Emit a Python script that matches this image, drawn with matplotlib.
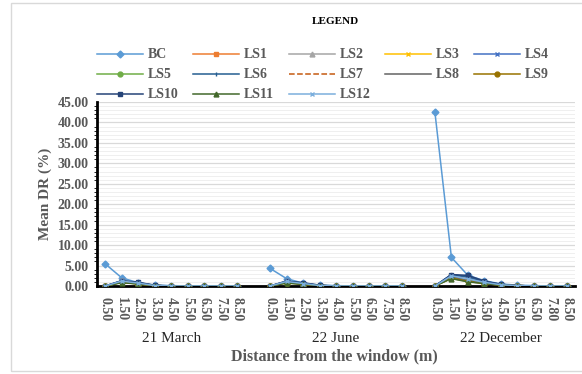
import numpy as np
import matplotlib
matplotlib.use("Agg")
import matplotlib.pyplot as plt
from matplotlib.ticker import MultipleLocator, FormatStrFormatter

# Categories (three days, nine distances each)
groups = ["21 March", "22 June", "22 December"]
dist_labels = [
    ["0.50", "1.50", "2.50", "3.50", "4.50", "5.50", "6.50", "7.50", "8.50"],
    ["0.50", "1.50", "2.50", "3.50", "4.50", "5.50", "6.50", "7.50", "8.50"],
    ["0.50", "1.50", "2.50", "3.50", "4.50", "5.50", "6.50", "7.80", "8.50"],
]

# Mean DR (%) per series: March, June, December
BC = [5.4, 2.0, 0.8, 0.2, 0.1, 0.0, 0.0, 0.0, 0.0,
      4.3, 1.8, 0.7, 0.2, 0.1, 0.0, 0.0, 0.0, 0.0,
      42.5, 7.0, 2.6, 1.3, 0.5, 0.2, 0.1, 0.0, 0.0]
LS1 = [0.0, 1.1, 0.6, 0.1, 0.0, 0.0, 0.0, 0.0, 0.0,
       0.0, 1.0, 0.6, 0.1, 0.0, 0.0, 0.0, 0.0, 0.0,
       0.0, 2.4, 1.6, 0.9, 0.3, 0.1, 0.0, 0.0, 0.0]
LS2 = [0.0, 1.2, 0.7, 0.1, 0.0, 0.0, 0.0, 0.0, 0.0,
       0.0, 1.1, 0.6, 0.1, 0.0, 0.0, 0.0, 0.0, 0.0,
       0.0, 2.6, 1.8, 1.0, 0.3, 0.1, 0.0, 0.0, 0.0]
LS3 = [0.0, 1.0, 0.6, 0.1, 0.0, 0.0, 0.0, 0.0, 0.0,
       0.0, 0.9, 0.5, 0.1, 0.0, 0.0, 0.0, 0.0, 0.0,
       0.0, 2.2, 1.4, 0.8, 0.3, 0.1, 0.0, 0.0, 0.0]
LS4 = [0.0, 1.3, 0.8, 0.1, 0.0, 0.0, 0.0, 0.0, 0.0,
       0.0, 1.2, 0.7, 0.1, 0.0, 0.0, 0.0, 0.0, 0.0,
       0.0, 2.8, 2.2, 1.1, 0.4, 0.1, 0.0, 0.0, 0.0]
LS5 = [0.0, 0.9, 0.5, 0.1, 0.0, 0.0, 0.0, 0.0, 0.0,
       0.0, 0.8, 0.5, 0.1, 0.0, 0.0, 0.0, 0.0, 0.0,
       0.0, 2.0, 1.3, 0.7, 0.2, 0.1, 0.0, 0.0, 0.0]
LS6 = [0.0, 1.2, 0.8, 0.1, 0.0, 0.0, 0.0, 0.0, 0.0,
       0.0, 1.1, 0.7, 0.1, 0.0, 0.0, 0.0, 0.0, 0.0,
       0.0, 2.7, 2.3, 1.1, 0.4, 0.1, 0.0, 0.0, 0.0]
LS7 = [0.0, 1.0, 0.6, 0.1, 0.0, 0.0, 0.0, 0.0, 0.0,
       0.0, 0.9, 0.5, 0.1, 0.0, 0.0, 0.0, 0.0, 0.0,
       0.0, 2.1, 1.2, 0.7, 0.2, 0.1, 0.0, 0.0, 0.0]
LS8 = [0.0, 1.1, 0.7, 0.1, 0.0, 0.0, 0.0, 0.0, 0.0,
       0.0, 1.0, 0.6, 0.1, 0.0, 0.0, 0.0, 0.0, 0.0,
       0.0, 2.3, 1.5, 0.8, 0.3, 0.1, 0.0, 0.0, 0.0]
LS9 = [0.0, 0.9, 0.5, 0.1, 0.0, 0.0, 0.0, 0.0, 0.0,
       0.0, 0.8, 0.4, 0.1, 0.0, 0.0, 0.0, 0.0, 0.0,
       0.0, 1.9, 1.1, 0.6, 0.2, 0.1, 0.0, 0.0, 0.0]
LS10 = [0.0, 1.3, 0.9, 0.2, 0.0, 0.0, 0.0, 0.0, 0.0,
        0.0, 1.2, 0.8, 0.2, 0.0, 0.0, 0.0, 0.0, 0.0,
        0.0, 2.8, 2.6, 1.2, 0.4, 0.1, 0.0, 0.0, 0.0]
LS11 = [0.0, 0.8, 0.5, 0.1, 0.0, 0.0, 0.0, 0.0, 0.0,
        0.0, 0.7, 0.4, 0.1, 0.0, 0.0, 0.0, 0.0, 0.0,
        0.0, 1.8, 1.0, 0.6, 0.2, 0.0, 0.0, 0.0, 0.0]
LS12 = [0.0, 1.2, 0.7, 0.1, 0.0, 0.0, 0.0, 0.0, 0.0,
        0.0, 1.1, 0.6, 0.1, 0.0, 0.0, 0.0, 0.0, 0.0,
        0.0, 2.5, 1.7, 0.9, 0.3, 0.1, 0.0, 0.0, 0.0]

series = [
    ("BC", BC, "#5B9BD5", "D", "-"),
    ("LS1", LS1, "#ED7D31", "s", "-"),
    ("LS2", LS2, "#A5A5A5", "^", "-"),
    ("LS3", LS3, "#FFC000", "x", "-"),
    ("LS4", LS4, "#4472C4", "x", "-"),
    ("LS5", LS5, "#70AD47", "o", "-"),
    ("LS6", LS6, "#255E91", "|", "-"),
    ("LS7", LS7, "#C55A11", None, "--"),
    ("LS8", LS8, "#636363", None, "-"),
    ("LS9", LS9, "#997300", "o", "-"),
    ("LS10", LS10, "#264478", "s", "-"),
    ("LS11", LS11, "#43682B", "^", "-"),
    ("LS12", LS12, "#7CAFDD", "x", "-"),
]

plt.rcParams['font.family'] = ['Liberation Serif', 'DejaVu Serif']

fig = plt.figure(figsize=(5.82, 3.74), dpi=100)
ax = fig.add_axes([0.1667, 0.2353, 0.8213, 0.492])

# x positions: one empty category between groups
xpos = []
for g in range(3):
    xpos.append(np.arange(9) + g * 10)

handles = {}
for name, vals, col, mk, ls in series:
    vals = np.array(vals)
    for g in range(3):
        h, = ax.plot(xpos[g], vals[g * 9:(g + 1) * 9], color=col, linestyle=ls,
                     linewidth=1.1, marker=mk, markersize=3.5, markeredgewidth=1.0,
                     label=name, zorder=3)
    handles[name] = h

ax.set_xlim(-0.5, 28.5)
ax.set_ylim(0, 45)
ax.yaxis.set_major_locator(MultipleLocator(5))
ax.yaxis.set_minor_locator(MultipleLocator(1))
ax.yaxis.set_major_formatter(FormatStrFormatter("%.2f"))
ax.grid(axis='y', which='major', color='#d9d9d9', linewidth=0.9, zorder=0)
ax.grid(axis='y', which='minor', color='#efefef', linewidth=0.7, zorder=0)
ax.set_axisbelow(True)

all_x = np.concatenate(xpos)
all_labels = sum(dist_labels, [])
ax.set_xticks(all_x)
ax.set_xticklabels(all_labels, rotation=270, fontsize=10, fontweight='bold', color='#595959')
ax.tick_params(axis='both', length=0)
ax.tick_params(axis='x', pad=8)
ax.tick_params(axis='y', pad=6)
for t in ax.get_yticklabels():
    t.set_fontsize(10)
    t.set_fontweight('bold')
    t.set_color('#595959')

for s in ['top', 'right']:
    ax.spines[s].set_visible(False)
ax.spines['left'].set_color('black')
ax.spines['left'].set_linewidth(2)
ax.spines['bottom'].set_color('black')
ax.spines['bottom'].set_linewidth(2)

ax.set_ylabel("Mean DR (%)", fontsize=11, fontweight='bold', color='#595959', labelpad=4)

for g, name in enumerate(groups):
    ax.annotate(name, xy=(xpos[g].mean(), 0), xycoords=('data', 'axes fraction'),
                xytext=(0, -38), textcoords='offset points', ha='center', va='center',
                fontsize=11, color='#262626')
fig.text(0.575, 1 - 356 / 374, "Distance from the window (m)", ha='center', va='center',
         fontsize=11.5, fontweight='bold', color='#595959')

fig.text(0.576, 1 - 22 / 374, "LEGEND", ha='center', va='center',
         fontsize=8, fontweight='bold', color='black')

order = ["BC", "LS5", "LS10", "LS1", "LS6", "LS11", "LS2", "LS7", "LS12",
         "LS3", "LS8", "LS4", "LS9"]
leg = fig.legend([handles[n] for n in order], order, ncol=5, loc='upper left',
                 bbox_to_anchor=(0.146, 1 - 36 / 374), frameon=False,
                 prop={'size': 10, 'weight': 'bold'}, handlelength=3.3,
                 handletextpad=0.35, columnspacing=1.05, labelspacing=0.5)
for t in leg.get_texts():
    t.set_color('#595959')

# outer chart border
fig.patches.append(plt.Rectangle((11 / 582, 3 / 374), 575 / 582, 368 / 374,
                                 transform=fig.transFigure, fill=False,
                                 edgecolor='#d9d9d9', linewidth=1.0))

fig.savefig("out.png", dpi=100)
